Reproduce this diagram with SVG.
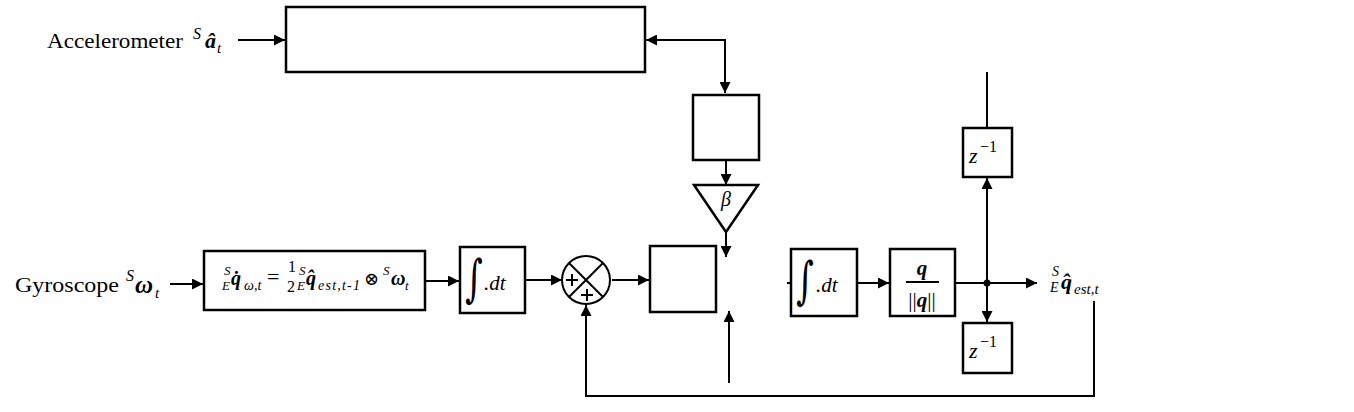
<svg xmlns="http://www.w3.org/2000/svg" width="1354" height="412" viewBox="0 0 1354 412" font-family="'Liberation Serif', 'DejaVu Serif', serif">
<defs>
<marker id="ah" viewBox="0 0 10 10" refX="10" refY="5" markerWidth="11" markerHeight="11" markerUnits="userSpaceOnUse" orient="auto-start-reverse">
<path d="M0,0 L10,5 L0,10 z" fill="#000"/>
</marker>
<style>
.box{fill:#fff;stroke:#000;stroke-width:2.5}
.ln{fill:none;stroke:#000;stroke-width:2}
.arr{fill:none;stroke:#000;stroke-width:2;marker-end:url(#ah)}
text{font-family:'Liberation Serif','DejaVu Serif',serif;fill:#000}
.m{font-style:italic}
.b{font-style:italic;font-weight:bold}
.int{font-family:'DejaVu Serif',serif}
</style>
</defs>
<rect width="1354" height="412" fill="#fff"/>

<g id="connectors">
<path class="arr" d="M238,40 L285,40"/>
<path class="ln" d="M646,40 L725,40 L725,93" marker-start="url(#ah)" marker-end="url(#ah)"/>
<path class="arr" d="M726,160 L726,185"/>
<path class="arr" d="M726,232 L726,257"/>
<path class="arr" d="M729,383 L729,311"/>
<path class="arr" d="M170,284 L203,284"/>
<path class="arr" d="M425,281 L459,281"/>
<path class="arr" d="M525,280 L562,280"/>
<path class="arr" d="M612,280 L649,280"/>
<path class="arr" d="M1094,301 L1094,396 L586,396 L586,305"/>
<path class="ln" d="M787,283 L791,283"/>
<path class="arr" d="M857,283 L889,283"/>
<path class="arr" d="M955,283 L1037,283"/>
<path class="arr" d="M987,283 L987,178"/>
<path class="arr" d="M987,283 L987,322"/>
<path class="ln" d="M987,128 L987,72"/>
<circle cx="987" cy="283" r="3.5" fill="#000"/>
</g>

<g id="accelerometer">
<text x="47" y="48" font-size="22" textLength="136" lengthAdjust="spacingAndGlyphs">Accelerometer</text>
<text class="m" x="193" y="39" font-size="16">S</text>
<text class="b" x="205" y="48" font-size="22">â</text>
<text class="m" x="217" y="53" font-size="15">t</text>
</g>

<g id="accel-block"><rect class="box" x="286" y="7" width="359" height="65"/></g>

<g id="block2"><rect class="box" x="693" y="95" width="66" height="65"/></g>

<g id="beta">
<path class="box" d="M694,185 L758,185 L726,232 z"/>
<text class="m" x="726" y="206" font-size="20" text-anchor="middle" fill="#555">β</text>
</g>

<g id="block3"><rect class="box" x="650" y="246" width="66" height="66"/></g>

<g id="gyroscope">
<text x="15" y="292" font-size="22" textLength="104" lengthAdjust="spacingAndGlyphs">Gyroscope</text>
<text class="m" x="126" y="281" font-size="16">S</text>
<text class="b" x="135" y="293" font-size="25">ω</text>
<text class="m" x="155" y="298" font-size="15">t</text>
</g>

<g id="gyro-block">
<rect class="box" x="204" y="251" width="221" height="59"/>
<text class="m" x="224" y="275" font-size="13">S</text>
<text class="m" x="222" y="290" font-size="13">E</text>
<text class="b" x="231" y="285" font-size="20">q̇</text>
<text class="m" x="244" y="290" font-size="14">ω,t</text>
<text x="267" y="284" font-size="22">=</text>
<text x="288" y="272" font-size="16">1</text>
<text x="287" y="292" font-size="16">2</text>
<text class="m" x="299" y="275" font-size="13">S</text>
<text class="m" x="297" y="290" font-size="13">E</text>
<text class="b" x="306" y="285" font-size="20">q̂</text>
<text class="m" x="318" y="290" font-size="14" textLength="42" lengthAdjust="spacing">est,t-1</text>
<text x="364" y="285" font-size="18">⊗</text>
<text class="m" x="383" y="275" font-size="13">S</text>
<text class="b" x="391" y="285" font-size="20">ω</text>
<text class="m" x="405" y="290" font-size="13">t</text>
</g>

<g id="integrator1">
<rect class="box" x="460" y="247" width="65" height="66"/>
<text class="int" x="465" y="296" font-size="34" transform="translate(465,296) scale(1,1.5) translate(-465,-296)">∫</text>
<text class="m" x="484" y="290" font-size="21">.dt</text>
</g>

<g id="sum">
<circle cx="586" cy="280" r="24" fill="#fff" stroke="#000" stroke-width="2"/>
<path class="ln" d="M569,263 L603,297 M603,263 L569,297"/>
<path class="ln" d="M566,280 L578,280 M572,274 L572,286"/>
<path class="ln" d="M581,295 L593,295 M587,289 L587,301"/>
</g>

<g id="integrator2">
<rect class="box" x="791" y="249" width="66" height="67"/>
<text class="int" x="796" y="298" font-size="34" transform="translate(796,298) scale(1,1.5) translate(-796,-298)">∫</text>
<text class="m" x="816" y="292" font-size="21">.dt</text>
</g>

<g id="normalize">
<rect class="box" x="890" y="249" width="65" height="67"/>
<text class="b" x="922" y="275" font-size="21" text-anchor="middle">q</text>
<path class="ln" d="M906,282 L939,282" stroke-width="1.5"/>
<text x="922" y="307" font-size="21" text-anchor="middle">||<tspan font-style="italic" font-weight="bold">q</tspan>||</text>
</g>

<g id="delay1">
<rect class="box" x="963" y="128" width="49" height="49"/>
<text class="m" x="969" y="163" font-size="22">z</text>
<text x="980" y="152" font-size="16">−1</text>
</g>

<g id="delay2">
<rect class="box" x="963" y="323" width="49" height="50"/>
<text class="m" x="969" y="358" font-size="22">z</text>
<text x="980" y="347" font-size="16">−1</text>
</g>

<g id="output">
<text class="m" x="1052" y="276" font-size="14">S</text>
<text class="m" x="1050" y="292" font-size="14">E</text>
<text class="b" x="1061" y="289" font-size="22">q̂</text>
<text class="m" x="1074" y="294" font-size="15">est,t</text>
</g>
</svg>
